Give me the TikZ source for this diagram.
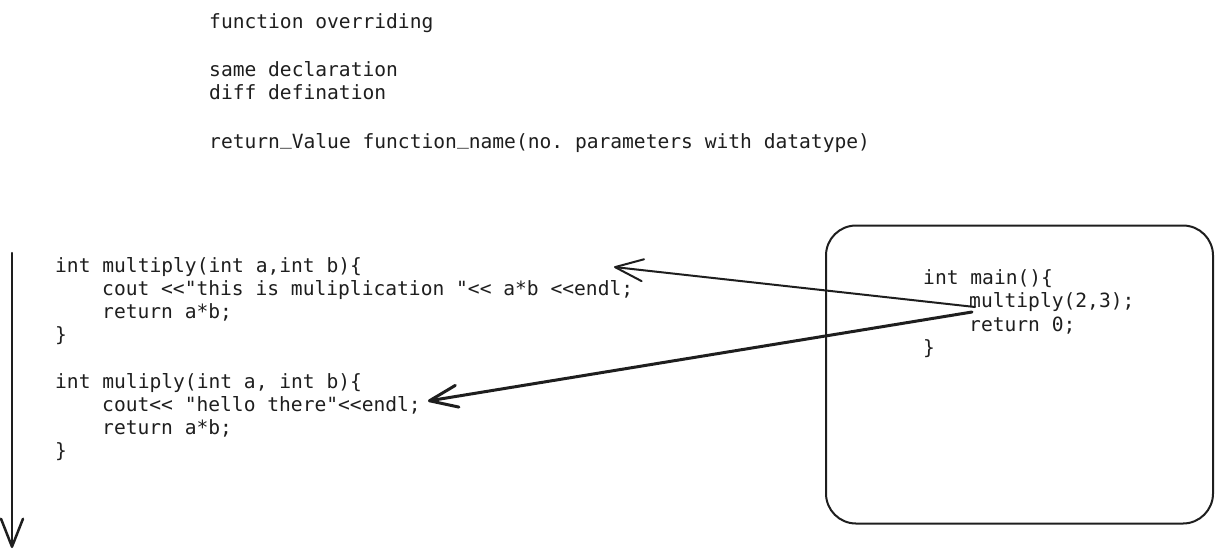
\documentclass[tikz,border=0pt]{standalone}
\usepackage{fontspec}
\setmonofont{DejaVu Sans Mono}
\usetikzlibrary{arrows.meta}
\definecolor{ink}{HTML}{1E1E1E}
\newcommand\uscore{\raisebox{0.2em}{\symbol{"5F}}}
\tikzset{
  code/.style={anchor=base west, inner sep=0pt, text=ink,
    font=\ttfamily\fontsize{19.6}{23}\selectfont},
  barb/.style={-{Straight Barb[length=28pt,width=22pt,line cap=round,line join=round]},
    draw=ink, line cap=round, line join=round},
  box/.style={draw=ink, line width=2pt, rounded corners=30pt, inner sep=0pt}
}
\begin{document}
\begin{tikzpicture}[x=1pt,y=-1pt]
\useasboundingbox (0,0) rectangle (1223,558);
% header text
\node[code] (title) at (209,28.5) {function overriding};
\node[code] (decl)  at (209,76)   {same declaration};
\node[code] (defn)  at (209,99)   {diff defination};
\node[code] (sig)   at (209,148)  {return\uscore Value function\uscore name(no. parameters with datatype)};
% first function
\node[code] (aone)   at (55,272)  {int multiply(int a,int b)\{};
\node[code] (atwo)   at (102,295) {cout <{}<"this is muliplication "<{}< a*b <{}<endl;};
\node[code] (athree) at (102,318) {return a*b;};
\node[code] (afour)  at (55,341)  {\}};
% second function
\node[code] (bone)   at (55,388)  {int muliply(int a, int b)\{};
\node[code] (btwo)   at (102,411) {cout<{}< "hello there"<{}<endl;};
\node[code] (bthree) at (102,434) {return a*b;};
\node[code] (bfour)  at (55,457)  {\}};
% main box
\node[box, minimum width=387pt, minimum height=298pt] (mainbox) at (1019.5,374.5) {};
\node[code] (mone)   at (923,284)   {int main()\{};
\node[code] (mtwo)   at (969,307.5) {multiply(2,3);};
\node[code] (mthree) at (969,331)   {return 0;};
\node[code] (mfour)  at (923,354)   {\}};
% connector end points
\coordinate (vtop) at (12,253);
\coordinate (vbot) at (12,548);
\coordinate (callA) at (975,307);
\coordinate (tipA)  at (614,267);
\coordinate (callB) at (972,312);
\coordinate (tipB)  at (428,401);
% connectors
\draw[barb, line width=2.5pt] (vtop) -- (vbot);
\draw[barb, line width=2pt] (callA) -- (tipA);
\draw[barb, line width=3pt] (callB) -- (tipB);
\end{tikzpicture}
\end{document}
